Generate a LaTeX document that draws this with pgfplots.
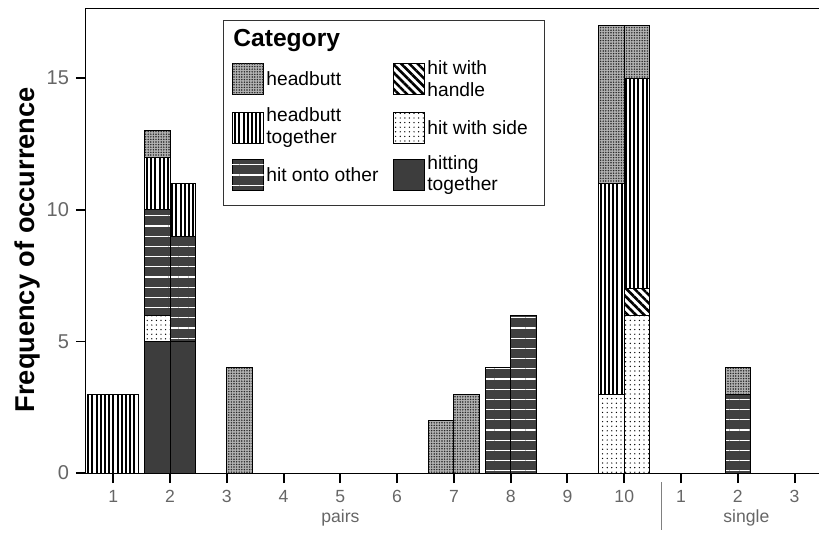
\documentclass[border=0pt]{standalone}
\usepackage{fontspec}
\setmainfont{Liberation Sans}
\usepackage{pgfplots}
\pgfplotsset{compat=1.18}
\usepackage{pgfplotstable}
\usetikzlibrary{patterns,patterns.meta}

\pgfplotstableread{
x      htg hws hwh hoo hbt hb
0.775  0   0   0   0   3   0
1.225  0   0   0   0   3   0
1.775  5   1   0   4   2   1
2.225  5   0   0   4   2   0
3.225  0   0   0   0   0   4
6.775  0   0   0   0   0   2
7.225  0   0   0   0   0   3
7.775  0   0   0   4   0   0
8.225  0   0   0   6   0   0
9.775  0   3   0   0   8   6
10.225 0   6   1   0   8   2
12     0   0   0   3   0   1
}\datatab

\tikzset{
  hbS/.style={fill=black!30, postaction={pattern={Dots[distance=1.3pt,radius=0.42pt]}, pattern color=black!85}},
  hbtS/.style={fill=white, postaction={pattern={Lines[angle=90,distance=2.1pt,line width=1.05pt]}, pattern color=black}},
  hooS/.style={fill=black!75, postaction={pattern={Lines[angle=0,distance=5.1pt,line width=0.6pt]}, pattern color=white}},
  hwhS/.style={fill=white, postaction={pattern={Lines[angle=-45,distance=2.9pt,line width=1.3pt]}, pattern color=black}},
  hwsS/.style={fill=white, postaction={pattern={Dots[distance=2.3pt,radius=0.35pt]}, pattern color=black}},
  htgS/.style={fill=black!76},
}

\begin{document}
\begin{tikzpicture}
\begin{axis}[
  scale only axis, width=366.5pt, height=232.5pt,
  xmin=0.52, xmax=13.43, ymin=0, ymax=17.66,
  axis x line*=bottom, axis y line*=left,
  axis line style={line width=0.5pt, black},
  ybar stacked, bar width=0.45,
  xtick={1,...,13}, xticklabels={1,2,3,4,5,6,7,8,9,10,1,2,3},
  ytick={0,5,10,15},
  tick align=outside,
  major tick length=5pt,
  xtick style={line width=1pt, black},
  ytick style={line width=0.8pt, black},
  /pgf/number format/assume math mode=true,
  yticklabel style={font=\fontsize{10}{12}\selectfont, text=black!60},
  xticklabel style={font=\fontsize{8.8}{10}\selectfont, text=black!60},
  ylabel={Frequency of occurrence},
  ylabel style={font=\bfseries\fontsize{13.6}{16}\selectfont, at={([xshift=-29.5pt]rel axis cs:0,0.48)}, anchor=center},
  xlabel={pairs},
  xlabel style={font=\fontsize{8.8}{10}\selectfont, text=black!60, at={([yshift=-22.5pt]rel axis cs:0.347,0)}, anchor=center},
  clip=false,
]
\addplot[htgS, draw=black, line width=0.5pt] table[x=x,y=htg]{\datatab};
\addplot[hwsS, draw=black, line width=0.5pt] table[x=x,y=hws]{\datatab};
\addplot[hwhS, draw=black, line width=0.5pt] table[x=x,y=hwh]{\datatab};
\addplot[hooS, draw=black, line width=0.5pt] table[x=x,y=hoo]{\datatab};
\addplot[hbtS, draw=black, line width=0.5pt] table[x=x,y=hbt]{\datatab};
\addplot[hbS, draw=black, line width=0.5pt] table[x=x,y=hb]{\datatab};
\draw[line width=0.5pt] (rel axis cs:0,1) -- (rel axis cs:1,1);
\draw[black!50, line width=0.5pt] ([yshift=-4.5pt]axis cs:10.65,0) -- ([yshift=-28.5pt]axis cs:10.65,0);
\node[font=\fontsize{8.8}{10}\selectfont, text=black!60] at ([yshift=-22.5pt]axis cs:12.15,0) {single};
\coordinate (NW) at (rel axis cs:0,1);
\coordinate (SE) at (rel axis cs:1,0);
\end{axis}
% legend
\draw[line width=0.5pt, draw=black!80, fill=white] ([shift={(68.5pt,-6pt)}]NW) rectangle ([shift={(229pt,-98.5pt)}]NW);
\node[anchor=base west, inner sep=0pt, font=\bfseries\fontsize{12.3}{14}\selectfont] at ([shift={(73.5pt,-19.25pt)}]NW) {Category};
\path[hbS, draw=black, line width=0.4pt] ([shift={(73pt,-27.5pt)}]NW) rectangle ([shift={(88.75pt,-43pt)}]NW);
\path[hbtS, draw=black, line width=0.4pt] ([shift={(73pt,-52pt)}]NW) rectangle ([shift={(88.75pt,-67.5pt)}]NW);
\path[hooS, draw=black, line width=0.4pt] ([shift={(73pt,-75.75pt)}]NW) rectangle ([shift={(88.75pt,-91.25pt)}]NW);
\path[hwhS, draw=black, line width=0.4pt] ([shift={(153.5pt,-27.5pt)}]NW) rectangle ([shift={(169.25pt,-43pt)}]NW);
\path[hwsS, draw=black, line width=0.4pt] ([shift={(153.5pt,-52pt)}]NW) rectangle ([shift={(169.25pt,-67.5pt)}]NW);
\path[htgS, draw=black, line width=0.4pt] ([shift={(153.5pt,-75.75pt)}]NW) rectangle ([shift={(169.25pt,-91.25pt)}]NW);
\begin{scope}[every node/.style={anchor=west, inner sep=0pt, align=left, font=\fontsize{9.6}{10.8}\selectfont}]
\node at ([shift={(90pt,-35.25pt)}]NW) {headbutt};
\node at ([shift={(90pt,-59.75pt)}]NW) {headbutt\\together};
\node at ([shift={(90pt,-83.5pt)}]NW) {hit onto other};
\node at ([shift={(170.5pt,-35.25pt)}]NW) {hit with\\handle};
\node at ([shift={(170.5pt,-59.75pt)}]NW) {hit with side};
\node at ([shift={(170.5pt,-83.5pt)}]NW) {hitting\\together};
\end{scope}
\pgfresetboundingbox
\path ([shift={(-43pt,4pt)}]NW) rectangle ([yshift=-29.5pt]SE);
\end{tikzpicture}
\end{document}
